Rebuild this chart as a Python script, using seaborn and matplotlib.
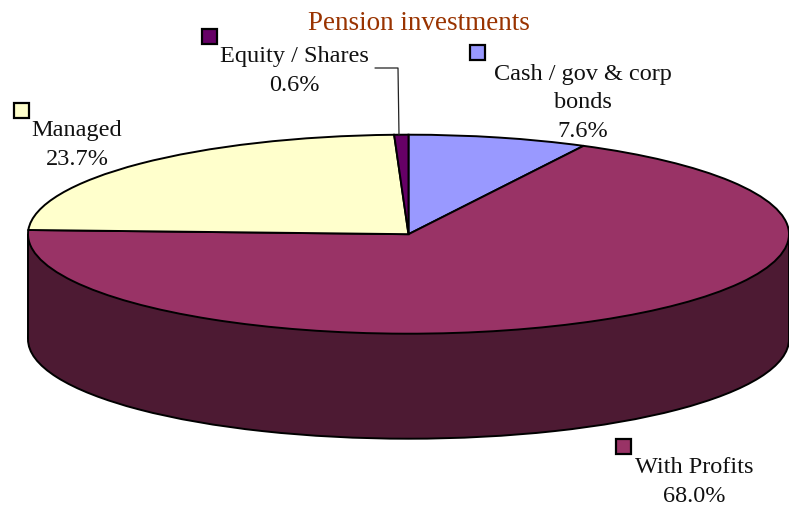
#!/usr/bin/env python3
import numpy as np
import seaborn as sns
import matplotlib.pyplot as plt
from matplotlib.patches import Rectangle

# === 1. Data ===
categories = ["Cash / gov & corp\nbonds", "With Profits", "Managed", "Equity / Shares"]
shares = [7.6, 68.0, 23.7, 0.6]
slice_colors = ["#9999FF", "#993366", "#FFFFCC", "#660066"]
wall_color = "#4D1A33"
title_color = "#993300"

# === 2. Style ===
sns.set_theme(style="white")
plt.rcParams["font.family"] = ["Liberation Serif", "DejaVu Serif"]

W, H = 789, 506
CX, CY, RX, RY, DEPTH = 408.5, 235.2, 380.5, 99.5, 105

fig = plt.figure(figsize=(W / 100, H / 100), dpi=100, facecolor="white")
ax = fig.add_axes([0, 0, 1, 1])
edge = {"edgecolor": "black", "linewidth": 1.4}

# === 3. Pie, squashed into an ellipse by the axis limits ===
depth = DEPTH / RY
ax.pie([1], colors=[wall_color], center=(0, -depth), radius=1, wedgeprops=edge)
x = np.linspace(-1, 1, 3)
ax.fill_between(x, -depth, 0, color=wall_color, linewidth=0)
ax.plot([-1, -1], [0, -depth], color="black", lw=1.4, solid_capstyle="butt")
ax.plot([1, 1], [0, -depth], color="black", lw=1.4, solid_capstyle="butt")
ax.pie(shares, colors=slice_colors, startangle=90, counterclock=False,
       radius=1, wedgeprops=edge)

ax.set_aspect("auto")
ax.set_xlim(-CX / RX, (W - CX) / RX)
ax.set_ylim((CY - H) / RY, CY / RY)


# === 4. Labels, placed in pixels of the reference ===
def px(xp, yp):
    return xp / W, 1 - yp / H


def label(i, xp, yp, key_x, key_y):
    fig.text(*px(xp, yp), f"{categories[i]}\n{shares[i]:.1f}%", ha="center", va="center",
             fontsize=17.5, color="#111111", linespacing=1.48)
    fig.add_artist(Rectangle(px(key_x, key_y + 15), 15 / W, 15 / H, transform=fig.transFigure,
                             facecolor=slice_colors[i], edgecolor="black", linewidth=1.6))


fig.text(*px(418.5, 24), "Pension investments", ha="center", va="center",
         fontsize=19.5, color=title_color)
label(0, 583, 103, 470, 46)
label(1, 694, 482, 616, 440)
label(2, 77, 145, 14, 104)
label(3, 294.5, 71, 202, 30)

# leader line for the tiny slice
lx, ly = px(375, 69)
mx, my = px(398, 69)
ex, ey = px(399, 136)
fig.add_artist(plt.Line2D([lx, mx, ex], [ly, my, ey], color="#222222", lw=0.9,
                          transform=fig.transFigure))

fig.savefig("out.png", dpi=100)
